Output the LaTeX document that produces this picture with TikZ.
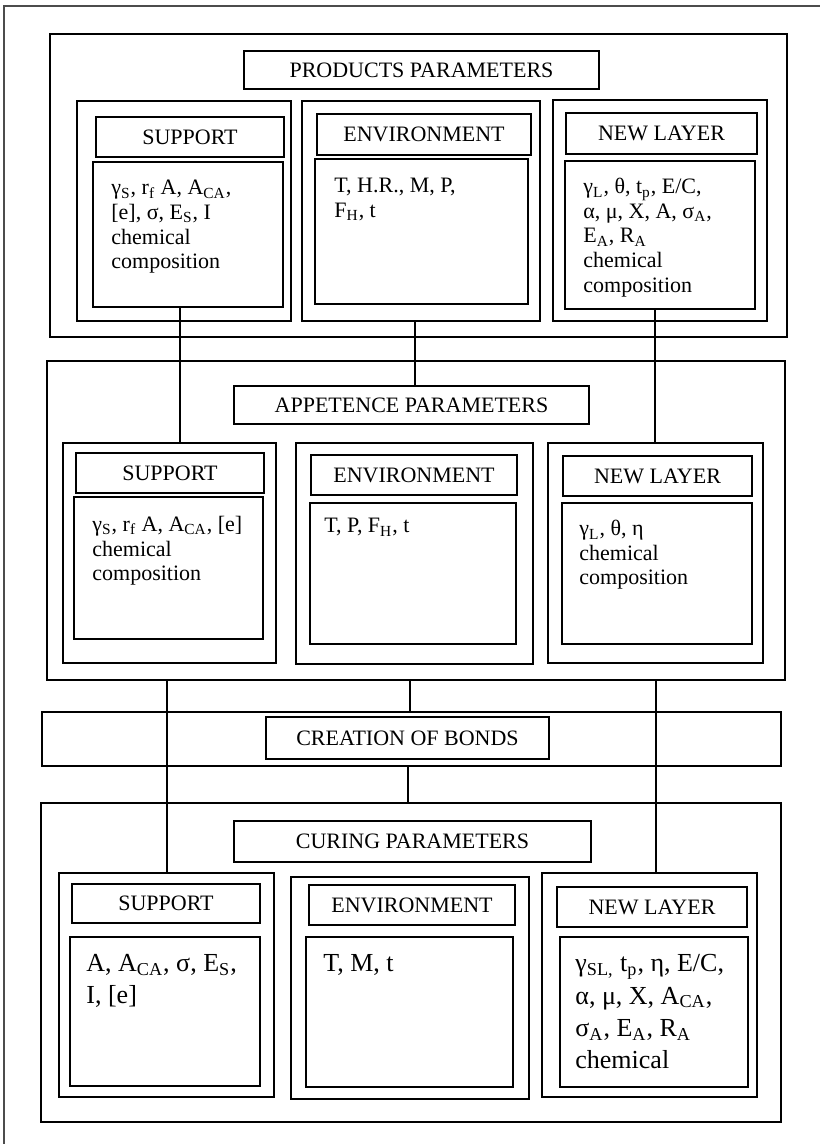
\documentclass[tikz,border=0pt]{standalone}
\usepackage{fontspec}
\setmainfont{Liberation Serif}
\usetikzlibrary{fit}

\begin{document}
\begin{tikzpicture}[x=0.5pt, y=-0.5pt,
  box/.style={draw, line width=1pt, inner sep=0pt},
  htxt/.style={inner sep=0pt, font=\fontsize{11}{12}\selectfont},
  txt/.style={anchor=north west, inner sep=0pt, align=left, font=\fontsize{11}{12.3}\selectfont},
  bigtxt/.style={txt, font=\fontsize{13}{16.2}\selectfont},
  link/.style={line width=0.8pt},
  page/.style={line width=0.6pt, black!70}]

\useasboundingbox (0,0) rectangle (820,1144);

% Page frame
\draw[page] (4,1144) |- (820,6);

% Products parameters
\node[box, fit={(50,34) (787,337)}] (prod) {};
\node[box, fit={(244,51) (599,89)}] (prod-h) {};
\node[htxt] (prod-h-t) at (prod-h) {PRODUCTS PARAMETERS};

\node[box, fit={(77,101) (291,321)}] (prod-s) {};
\node[box, fit={(96,117) (284,157)}] (prod-s-h) {};
\node[htxt] (prod-s-t) at (prod-s-h) {SUPPORT};
\node[box, fit={(93,162) (283,307)}] (prod-s-c) {};
\node[txt] (prod-s-x) at (111,180) {γ\textsubscript{S}, r\textsubscript{f} A, A\textsubscript{CA},\\
  {[e]}, σ, E\textsubscript{S}, I\\ chemical\\ composition};

\node[box, fit={(302,101) (540,321)}] (prod-e) {};
\node[box, fit={(317,114) (531,155)}] (prod-e-h) {};
\node[htxt] (prod-e-t) at (prod-e-h) {ENVIRONMENT};
\node[box, fit={(315,159) (528,304)}] (prod-e-c) {};
\node[txt] (prod-e-x) at (334,178) {T, H.R., M, P,\\ F\textsubscript{H}, t};

\node[box, fit={(553,100) (767,321)}] (prod-n) {};
\node[box, fit={(566,113) (757,154)}] (prod-n-h) {};
\node[htxt] (prod-n-t) at (prod-n-h) {NEW LAYER};
\node[box, fit={(565,161) (755,309)}] (prod-n-c) {};
\node[txt] (prod-n-x) at (583,178) {γ\textsubscript{L}, θ, t\textsubscript{p}, E/C,\\
  α, μ, X, A, σ\textsubscript{A},\\ E\textsubscript{A}, R\textsubscript{A}\\ chemical\\ composition};

% Appetence parameters
\node[box, fit={(47,361) (785,680)}] (app) {};
\node[box, fit={(234,386) (589,424)}] (app-h) {};
\node[htxt] (app-h-t) at (app-h) {APPETENCE PARAMETERS};

\node[box, fit={(63,443) (276,663)}] (app-s) {};
\node[box, fit={(76,453) (264,493)}] (app-s-h) {};
\node[htxt] (app-s-t) at (app-s-h) {SUPPORT};
\node[box, fit={(74,497) (263,639)}] (app-s-c) {};
\node[txt] (app-s-x) at (92,516) {γ\textsubscript{S}, r\textsubscript{f} A, A\textsubscript{CA}, [e]\\
  chemical\\ composition};

\node[box, fit={(296,443) (533,664)}] (app-e) {};
\node[box, fit={(311,455) (517,495)}] (app-e-h) {};
\node[htxt] (app-e-t) at (app-e-h) {ENVIRONMENT};
\node[box, fit={(310,503) (516,644)}] (app-e-c) {};
\node[txt] (app-e-x) at (324,518) {T, P, F\textsubscript{H}, t};

\node[box, fit={(548,443) (763,663)}] (app-n) {};
\node[box, fit={(563,456) (752,496)}] (app-n-h) {};
\node[htxt] (app-n-t) at (app-n-h) {NEW LAYER};
\node[box, fit={(562,503) (752,644)}] (app-n-c) {};
\node[txt] (app-n-x) at (579,520) {γ\textsubscript{L}, θ, η\\ chemical\\ composition};

% Creation of bonds
\node[box, fit={(42,712) (781,766)}] (bond) {};
\node[box, fit={(266,717) (549,759)}] (bond-h) {};
\node[htxt] (bond-h-t) at (bond-h) {CREATION OF BONDS};

% Curing parameters
\node[box, fit={(41,803) (781,1122)}] (cur) {};
\node[box, fit={(234,821) (591,862)}] (cur-h) {};
\node[htxt] (cur-h-t) at (cur-h) {CURING PARAMETERS};

\node[box, fit={(59,873) (274,1097)}] (cur-s) {};
\node[box, fit={(72,884) (260,923)}] (cur-s-h) {};
\node[htxt] (cur-s-t) at (cur-s-h) {SUPPORT};
\node[box, fit={(70,937) (260,1086)}] (cur-s-c) {};
\node[bigtxt] (cur-s-x) at (86,954) {A, A\textsubscript{CA}, σ, E\textsubscript{S},\\ I, [e]};

\node[box, fit={(291,877) (529,1099)}] (cur-e) {};
\node[box, fit={(309,885) (515,925)}] (cur-e-h) {};
\node[htxt] (cur-e-t) at (cur-e-h) {ENVIRONMENT};
\node[box, fit={(306,937) (513,1087)}] (cur-e-c) {};
\node[bigtxt] (cur-e-x) at (323,954) {T, M, t};

\node[box, fit={(542,873) (757,1097)}] (cur-n) {};
\node[box, fit={(557,887) (747,927)}] (cur-n-h) {};
\node[htxt] (cur-n-t) at (cur-n-h) {NEW LAYER};
\node[box, fit={(560,937) (748,1087)}] (cur-n-c) {};
\node[bigtxt] (cur-n-x) at (575,954) {γ\textsubscript{SL,} t\textsubscript{p}, η, E/C,\\
  α, μ, X, A\textsubscript{CA},\\ σ\textsubscript{A}, E\textsubscript{A}, R\textsubscript{A}\\ chemical};

% Connector columns
\coordinate (c1) at (180,0);
\coordinate (c2) at (415,0);
\coordinate (c3) at (655,0);
\coordinate (c4) at (167,0);
\coordinate (c5) at (410,0);
\coordinate (c6) at (656,0);
\coordinate (c7) at (408,0);

% Connectors
\draw[link] (prod-s-c.south -| c1) -- (app-s.north -| c1);
\draw[link] (prod-e.south -| c2) -- (app-h.north -| c2);
\draw[link] (prod-n-c.south -| c3) -- (app-n.north -| c3);
\draw[link] (app.south -| c4) -- (cur-s.north -| c4);
\draw[link] (app.south -| c5) -- (bond.north -| c5);
\draw[link] (app.south -| c6) -- (cur-n.north -| c6);
\draw[link] (bond.south -| c7) -- (cur.north -| c7);

\end{tikzpicture}
\end{document}
